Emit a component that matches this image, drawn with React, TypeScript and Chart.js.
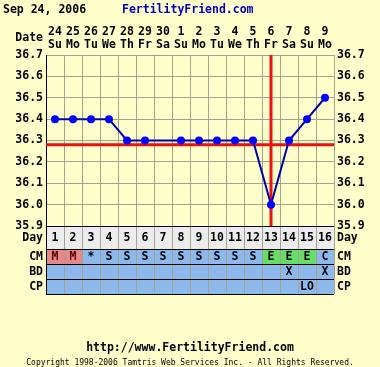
import React, { useEffect, useRef } from "react";
import { Chart, registerables } from "chart.js";

Chart.register(...registerables);

const dayNums = ["1", "2", "3", "4", "5", "6", "7", "8", "9", "10", "11", "12", "13", "14", "15", "16"];
const dateNums = ["24", "25", "26", "27", "28", "29", "30", "1", "2", "3", "4", "5", "6", "7", "8", "9"];
const weekDays = ["Su", "Mo", "Tu", "We", "Th", "Fr", "Sa", "Su", "Mo", "Tu", "We", "Th", "Fr", "Sa", "Su", "Mo"];
const temps: (number | null)[] = [36.4, 36.4, 36.4, 36.4, 36.3, 36.3, null, 36.3, 36.3, 36.3, 36.3, 36.3, 36.0, 36.3, 36.4, 36.5];
const cmRow = ["M", "M", "*", "S", "S", "S", "S", "S", "S", "S", "S", "S", "E", "E", "E", "C"];
const bdRow = ["", "", "", "", "", "", "", "", "", "", "", "", "", "X", "", "X"];
const cpRow = ["", "", "", "", "", "", "", "", "", "", "", "", "", "", "LO", ""];
const coverline = 36.28;
const ovulationDay = "13";
const yMin = 35.9;
const yMax = 36.7;
const titleDate = "Sep 24, 2006";
const siteName = "FertilityFriend.com";
const footerUrl = "http://www.FertilityFriend.com";
const copyright = "Copyright 1998-2006 Tamtris Web Services Inc. - All Rights Reserved.";

const MONO = '"DejaVu Sans Mono", monospace';
const BG = "#FFFFCC";
const GRID = "#A3A38C";
const CELL = "#8DB8EC";
const DAYBG = "#ECECEC";

const overlay = {
  id: "ffOverlay",
  beforeDraw(chart: any) {
    const ctx = chart.ctx;
    ctx.save();
    ctx.fillStyle = BG;
    ctx.fillRect(0, 0, chart.width, chart.height);
    ctx.restore();
  },
  beforeDatasetsDraw(chart: any) {
    const { ctx, chartArea } = chart;
    const x = chart.scales.x;
    const y = chart.scales.y;
    ctx.save();
    ctx.strokeStyle = "#EE1111";
    ctx.lineWidth = 3;
    const cy = y.getPixelForValue(coverline);
    ctx.beginPath();
    ctx.moveTo(chartArea.left, cy);
    ctx.lineTo(chartArea.right, cy);
    ctx.stroke();
    const ox = x.getPixelForValue(dayNums.indexOf(ovulationDay));
    ctx.beginPath();
    ctx.moveTo(ox, chartArea.top);
    ctx.lineTo(ox, chartArea.bottom);
    ctx.stroke();
    ctx.restore();
  },
  afterDraw(chart: any) {
    const { ctx, chartArea } = chart;
    const x = chart.scales.x;
    const n = dayNums.length;
    const colW = (chartArea.right - chartArea.left) / n;
    const L = chartArea.left;
    const R = chartArea.right;
    ctx.save();
    ctx.textBaseline = "middle";
    // title
    ctx.font = `bold 11.5px ${MONO}`;
    ctx.textAlign = "left";
    ctx.fillStyle = "#000";
    ctx.fillText(titleDate, 3, 10.5);
    ctx.fillStyle = "#0000BB";
    ctx.fillText(siteName, 122, 10.5);
    // date header
    ctx.fillStyle = "#000";
    ctx.textAlign = "right";
    ctx.fillText("Date", L - 3, 38.5);
    ctx.textAlign = "center";
    for (let i = 0; i < n; i++) {
      const cx = x.getPixelForValue(i);
      ctx.fillText(dateNums[i], cx, 32.5);
      ctx.fillText(weekDays[i], cx, 45.5);
    }
    // bottom rows
    const rows = [chartArea.bottom, chartArea.bottom + 23, chartArea.bottom + 38, chartArea.bottom + 53, chartArea.bottom + 68];
    ctx.fillStyle = DAYBG;
    ctx.fillRect(L, rows[0], R - L, rows[1] - rows[0]);
    ctx.fillStyle = CELL;
    ctx.fillRect(L, rows[1], R - L, rows[4] - rows[1]);
    // special cells
    for (let i = 0; i < n; i++) {
      const c = cmRow[i];
      let col = "";
      if (c === "M") col = "#E58888";
      if (c === "E") col = "#66DD66";
      if (col) {
        ctx.fillStyle = col;
        ctx.fillRect(L + i * colW + 1, rows[1] + 1, colW - 1, rows[2] - rows[1] - 1);
      }
    }
    // vertical lines
    ctx.strokeStyle = GRID;
    ctx.lineWidth = 1;
    for (let i = 1; i <= n; i++) {
      const vx = Math.round(L + i * colW) + 0.5;
      ctx.beginPath();
      ctx.moveTo(vx, rows[0]);
      ctx.lineTo(vx, rows[4]);
      ctx.stroke();
    }
    // horizontal lines
    ctx.strokeStyle = "#000";
    for (const ry of rows) {
      ctx.beginPath();
      ctx.moveTo(L, Math.round(ry) + 0.5);
      ctx.lineTo(R, Math.round(ry) + 0.5);
      ctx.stroke();
    }
    ctx.beginPath();
    ctx.moveTo(Math.round(L) + 0.5, rows[0]);
    ctx.lineTo(Math.round(L) + 0.5, rows[4]);
    ctx.stroke();
    // texts
    ctx.font = `bold 11.5px ${MONO}`;
    ctx.fillStyle = "#000";
    const mids = [0, 1, 2, 3].map((k) => (rows[k] + rows[k + 1]) / 2 + 0.5);
    const labels = ["Day", "CM", "BD", "CP"];
    labels.forEach((lb, k) => {
      ctx.textAlign = "right";
      ctx.fillText(lb, L - 3, mids[k]);
      ctx.textAlign = "left";
      ctx.fillText(lb, R + 3, mids[k]);
    });
    ctx.textAlign = "center";
    const rowData = [dayNums, cmRow, bdRow, cpRow];
    rowData.forEach((arr, k) => {
      for (let i = 0; i < n; i++) {
        if (!arr[i]) continue;
        const cx = x.getPixelForValue(i);
        ctx.fillStyle = k === 1 && arr[i] === "M" ? "#550000" : "#000";
        ctx.fillText(arr[i], cx, mids[k]);
      }
    });
    // footer
    ctx.fillStyle = "#000";
    ctx.font = `bold 11.5px ${MONO}`;
    ctx.fillText(footerUrl, chart.width / 2, 348);
    ctx.font = `8px ${MONO}`;
    ctx.fillText(copyright, chart.width / 2, 363);
    ctx.restore();
  },
};

export default function App() {
  const ref = useRef<HTMLCanvasElement>(null);
  useEffect(() => {
    document.body.style.margin = "0";
    const canvas = ref.current!;
    const tickFont = { family: MONO, size: 11.5, weight: "bold" as const };
    const chart = new Chart(canvas, {
      type: "line",
      data: {
        labels: dayNums,
        datasets: [
          {
            data: temps,
            borderColor: "#0000AA",
            borderWidth: 2,
            pointRadius: 4,
            pointBorderWidth: 0,
            pointBackgroundColor: "#0000FF",
            pointBorderColor: "#0000FF",
            spanGaps: true,
            tension: 0,
            segment: {
              borderDash: (c: any) => (c.p1DataIndex - c.p0DataIndex > 1 ? [4, 3] : undefined),
            },
          },
        ],
      },
      plugins: [overlay],
      options: {
        animation: false,
        responsive: false,
        devicePixelRatio: 1,
        layout: { padding: { top: 55, bottom: 141, left: 0, right: 0 } },
        plugins: { legend: { display: false }, tooltip: { enabled: false }, title: { display: false } },
        scales: {
          x: {
            type: "category",
            offset: true,
            ticks: { display: false },
            grid: { color: GRID, offset: true, drawTicks: false },
            border: { color: "#000" },
            afterFit: (s: any) => {
              s.height = 0;
            },
          },
          y: {
            position: "left",
            min: yMin,
            max: yMax,
            ticks: {
              stepSize: 0.1,
              color: "#000",
              font: tickFont,
              padding: 3,
              callback: (v: any) => Number(v).toFixed(1),
            },
            grid: { color: GRID, drawTicks: false },
            border: { color: "#000" },
            afterFit: (s: any) => {
              s.width = 46;
            },
          },
          y2: {
            position: "right",
            min: yMin,
            max: yMax,
            ticks: {
              stepSize: 0.1,
              color: "#000",
              font: tickFont,
              padding: 3,
              callback: (v: any) => Number(v).toFixed(1),
            },
            grid: { drawOnChartArea: false, drawTicks: false },
            border: { color: GRID },
            afterFit: (s: any) => {
              s.width = 46;
            },
          },
        },
      },
    });
    return () => chart.destroy();
  }, []);
  return (
    <div style={{ position: "fixed", left: 0, top: 0, width: 380, height: 367 }}>
      <canvas ref={ref} width={380} height={367} />
    </div>
  );
}
